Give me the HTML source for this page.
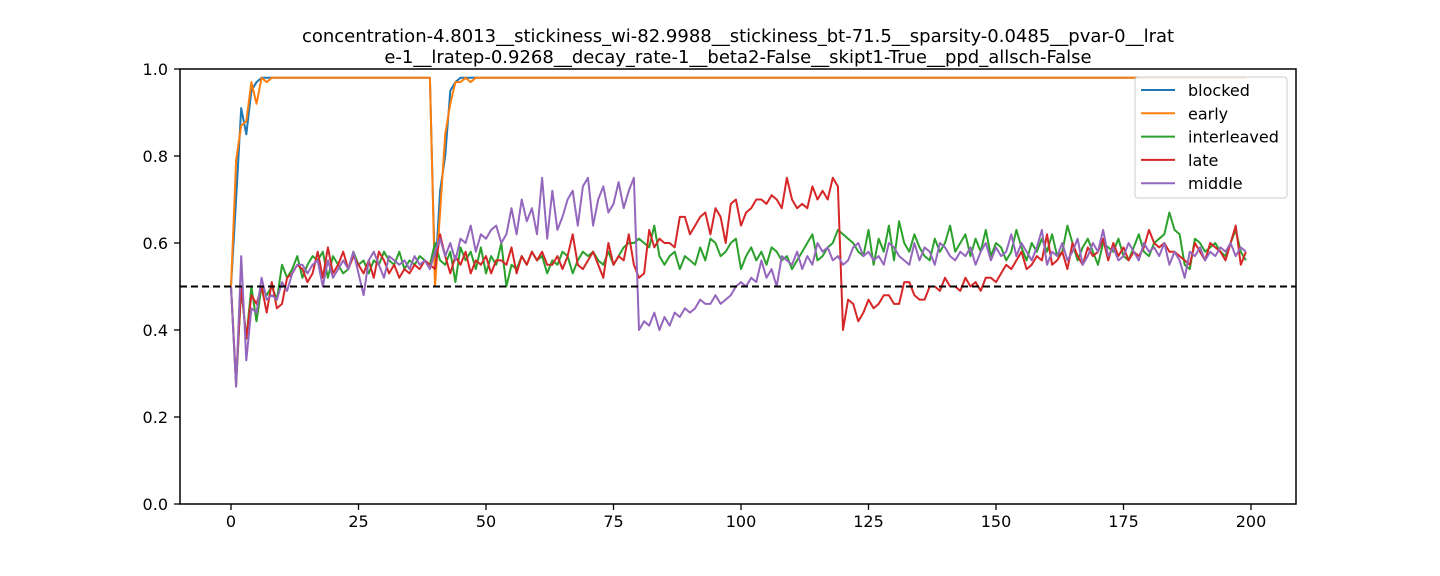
<!DOCTYPE html>
<html><head><meta charset="utf-8"><style>
html,body{margin:0;padding:0;background:#fff;}
svg{display:block;font-family:"DejaVu Sans","Liberation Sans",sans-serif;}
</style></head><body>
<svg id="chart" width="1440" height="576" viewBox="0 0 1440 576" xmlns="http://www.w3.org/2000/svg"></svg>
<script>
const blocked=[.50,.70,.91,.85,.95,.97,.98,.98,.98,.98,
.98,.98,.98,.98,.98,.98,.98,.98,.98,.98,.98,.98,.98,.98,.98,.98,.98,.98,.98,.98,.98,.98,.98,.98,.98,.98,.98,.98,.98,.98,
.52,.72,.80,.95,.97,.98,.98,.98,.98,.98,
.98,.98,.98,.98,.98,.98,.98,.98,.98,.98,.98,.98,.98,.98,.98,.98,.98,.98,.98,.98,.98,.98,.98,.98,.98,
.98,.98,.98,.98,.98,.98,.98,.98,.98,.98,.98,.98,.98,.98,.98,.98,.98,.98,.98,.98,.98,.98,.98,.98,.98,
.98,.98,.98,.98,.98,.98,.98,.98,.98,.98,.98,.98,.98,.98,.98,.98,.98,.98,.98,.98,.98,.98,.98,.98,.98,
.98,.98,.98,.98,.98,.98,.98,.98,.98,.98,.98,.98,.98,.98,.98,.98,.98,.98,.98,.98,.98,.98,.98,.98,.98,
.98,.98,.98,.98,.98,.98,.98,.98,.98,.98,.98,.98,.98,.98,.98,.98,.98,.98,.98,.98,.98,.98,.98,.98,.98,
.98,.98,.98,.98,.98,.98,.98,.98,.98,.98,.98,.98,.98,.98,.98,.98,.98,.98,.98,.98,.98,.98,.98,.98,.98];
const early=[.50,.79,.87,.88,.97,.92,.98,.97,.98,.98,
.98,.98,.98,.98,.98,.98,.98,.98,.98,.98,.98,.98,.98,.98,.98,.98,.98,.98,.98,.98,.98,.98,.98,.98,.98,.98,.98,.98,.98,.98,
.50,.67,.85,.92,.97,.97,.98,.97,.98,.98,
.98,.98,.98,.98,.98,.98,.98,.98,.98,.98,.98,.98,.98,.98,.98,.98,.98,.98,.98,.98,.98,.98,.98,.98,.98,
.98,.98,.98,.98,.98,.98,.98,.98,.98,.98,.98,.98,.98,.98,.98,.98,.98,.98,.98,.98,.98,.98,.98,.98,.98,
.98,.98,.98,.98,.98,.98,.98,.98,.98,.98,.98,.98,.98,.98,.98,.98,.98,.98,.98,.98,.98,.98,.98,.98,.98,
.98,.98,.98,.98,.98,.98,.98,.98,.98,.98,.98,.98,.98,.98,.98,.98,.98,.98,.98,.98,.98,.98,.98,.98,.98,
.98,.98,.98,.98,.98,.98,.98,.98,.98,.98,.98,.98,.98,.98,.98,.98,.98,.98,.98,.98,.98,.98,.98,.98,.98,
.98,.98,.98,.98,.98,.98,.98,.98,.98,.98,.98,.98,.98,.98,.98,.98,.98,.98,.98,.98,.98,.98,.98,.98,.98];
const interleaved=[.50,.27,.50,.38,.50,.42,.50,.48,.50,.47,.55,.52,.54,.57,.52,.55,.57,.56,.58,.52,
.57,.55,.53,.54,.58,.55,.56,.53,.56,.55,.58,.56,.55,.58,.54,.56,.55,.57,.56,.55,
.60,.56,.55,.58,.51,.59,.56,.58,.54,.59,.53,.57,.55,.60,.50,.55,.54,.57,.55,.58,
.56,.57,.53,.56,.55,.58,.57,.53,.56,.58,.57,.58,.56,.55,.58,.55,.57,.59,.60,.60,
.61,.60,.59,.64,.57,.55,.57,.58,.54,.57,.56,.55,.59,.56,.61,.60,.57,.58,.60,.61,
.54,.57,.59,.56,.58,.55,.59,.58,.56,.57,.54,.56,.58,.60,.62,.56,.57,.59,.60,.63,
.62,.61,.60,.58,.57,.63,.55,.61,.58,.64,.56,.65,.60,.58,.62,.59,.57,.56,.61,.58,
.60,.64,.58,.60,.62,.57,.61,.58,.63,.57,.60,.59,.56,.58,.63,.59,.56,.60,.58,.61,
.58,.62,.57,.58,.64,.60,.56,.59,.61,.58,.55,.60,.59,.58,.61,.57,.56,.59,.62,.58,
.57,.60,.61,.62,.67,.63,.62,.55,.54,.61,.60,.58,.59,.60,.58,.57,.60,.63,.58,.56];
const late=[.50,.28,.50,.38,.48,.46,.50,.44,.51,.45,.46,.52,.53,.55,.54,.51,.53,.58,.52,.59,
.53,.55,.58,.54,.57,.55,.53,.56,.52,.58,.56,.53,.55,.52,.54,.53,.55,.54,.56,.55,
.54,.62,.57,.53,.57,.55,.58,.53,.56,.55,.57,.53,.56,.56,.55,.59,.53,.57,.55,.58,
.56,.58,.55,.55,.57,.54,.57,.62,.55,.54,.56,.58,.55,.52,.60,.55,.57,.56,.62,.55,
.52,.53,.63,.59,.61,.60,.60,.59,.66,.66,.62,.64,.66,.67,.62,.68,.66,.60,.69,.70,
.64,.67,.68,.70,.70,.69,.71,.70,.68,.75,.70,.68,.69,.68,.73,.70,.72,.70,.75,.73,
.40,.47,.46,.42,.44,.47,.45,.46,.48,.48,.46,.46,.51,.51,.48,.47,.47,.50,.50,.49,
.52,.50,.50,.49,.52,.50,.51,.49,.52,.52,.51,.53,.55,.54,.56,.58,.54,.55,.57,.56,
.62,.55,.56,.58,.54,.60,.57,.55,.59,.57,.58,.61,.56,.60,.57,.59,.56,.58,.57,.59,
.63,.60,.59,.60,.58,.58,.57,.56,.55,.60,.58,.56,.60,.59,.58,.56,.60,.64,.55,.58];
const middle=[.50,.27,.57,.33,.45,.44,.52,.47,.48,.47,.51,.49,.53,.55,.55,.53,.55,.56,.50,.56,
.52,.54,.56,.54,.58,.53,.48,.56,.58,.55,.52,.57,.56,.55,.56,.54,.57,.55,.56,.54,
.58,.61,.57,.60,.56,.61,.60,.64,.58,.62,.61,.63,.64,.60,.62,.68,.62,.70,.65,.68,
.62,.75,.61,.72,.63,.66,.70,.72,.64,.73,.75,.64,.70,.73,.67,.69,.74,.68,.72,.75,
.40,.42,.41,.44,.40,.43,.41,.44,.43,.45,.44,.45,.47,.46,.46,.48,.46,.47,.48,.50,
.51,.50,.52,.51,.56,.52,.54,.50,.57,.56,.55,.58,.54,.57,.55,.60,.58,.59,.56,.57,
.55,.56,.59,.60,.57,.58,.56,.57,.55,.60,.59,.57,.56,.55,.60,.56,.59,.58,.55,.60,
.59,.57,.56,.58,.57,.59,.55,.58,.60,.56,.59,.57,.58,.62,.57,.60,.58,.56,.59,.63,
.55,.58,.57,.60,.56,.58,.61,.55,.57,.60,.58,.63,.57,.59,.56,.57,.60,.58,.56,.60,
.58,.59,.57,.60,.55,.58,.56,.52,.58,.57,.59,.56,.58,.57,.59,.58,.60,.57,.59,.58];
const seriesNames=["blocked","early","interleaved","late","middle"];
const seriesColors=["#1f77b4","#ff7f0e","#2ca02c","#d62728","#9467bd"];
const xTicks=[0,25,50,75,100,125,150,175,200];
const yTicks=[0.0,0.2,0.4,0.6,0.8,1.0];
const chanceLevel=0.5;

const svg=document.getElementById('chart');
const NS='http://www.w3.org/2000/svg';
const L=180,Rr=1296,T=69,B=504;
const x=v=>231+(v)*5.1;
const y=v=>B-(v)*(B-T);
function mk(tag,attrs,parent){const e=document.createElementNS(NS,tag);for(const k in attrs)e.setAttribute(k,attrs[k]);(parent||svg).appendChild(e);return e;}

const title=mk('text',{x:738,y:42,'text-anchor':'middle','font-size':'18',fill:'#000'});


const t1=mk('tspan',{x:738,dy:0},title);t1.textContent='concentration-4.8013__stickiness_wi-82.9988__stickiness_bt-71.5__sparsity-0.0485__pvar-0__lrat';
const t2=mk('tspan',{x:738,dy:21},title);t2.textContent='e-1__lratep-0.9268__decay_rate-1__beta2-False__skipt1-True__ppd_allsch-False';

const data=[blocked,early,interleaved,late,middle];
const plot=mk('g',{});


const cp=mk('clipPath',{id:'cp'});mk('rect',{x:L,y:T,width:Rr-L,height:B-T},cp);
data.forEach((arr,i)=>{
  const d=arr.map((v,j)=>(j?'L':'M')+x(j).toFixed(1)+' '+y(v).toFixed(1)).join(' ');
  const p=mk('path',{d:d,fill:'none',stroke:seriesColors[i],'stroke-width':2,'stroke-linejoin':'round','clip-path':'url(#cp)'},plot);
  
  
});
const ch=mk('line',{x1:L,x2:Rr,y1:y(chanceLevel),y2:y(chanceLevel),stroke:'#000','stroke-width':2,'stroke-dasharray':'7,4'});



const frame=mk('rect',{x:L,y:T,width:Rr-L,height:B-T,fill:'none',stroke:'#000','stroke-width':1.5});



xTicks.forEach(v=>{
  mk('line',{x1:x(v),x2:x(v),y1:B,y2:B+6,stroke:'#000','stroke-width':1.3});
  const t=mk('text',{x:x(v),y:B+23,'text-anchor':'middle','font-size':'16',fill:'#000'});
  
  
  t.textContent=v;
});
yTicks.forEach(v=>{
  mk('line',{x1:L-6,x2:L,y1:y(v),y2:y(v),stroke:'#000','stroke-width':1.3});
  const t=mk('text',{x:L-12,y:y(v)+6,'text-anchor':'end','font-size':'16',fill:'#000'});
  
  
  t.textContent=v.toFixed(1);
});

const lg=mk('g',{});


mk('rect',{x:1135,y:77,width:152,height:121,rx:3,fill:'#fff','fill-opacity':0.85,stroke:'#ccc'},lg);
seriesNames.forEach((n,i)=>{
  const g=mk('g',{},lg);
  
  
  const yy=90+i*23.3;
  mk('line',{x1:1141,x2:1175,y1:yy,y2:yy,stroke:seriesColors[i],'stroke-width':2},g);
  const t=mk('text',{x:1188,y:yy+6,'font-size':'16',fill:'#000'},g);
  t.textContent=n;
});
</script>
</body></html>
